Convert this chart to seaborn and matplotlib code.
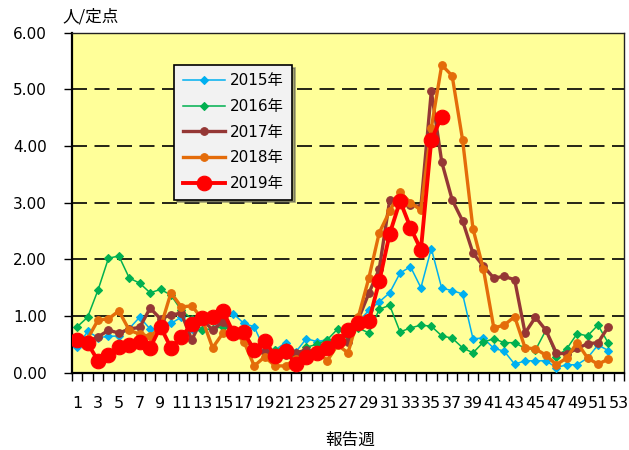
import matplotlib
matplotlib.use("Agg")
import matplotlib.pyplot as plt
import seaborn as sns
import pandas as pd

weeks = list(range(1, 53))

y2015 = [0.45, 0.73, 0.62, 0.64, 0.65, 0.78, 0.98, 0.77, 0.75, 0.87,
         0.98, 0.78, 0.75, 0.77, 0.95, 1.04, 0.87, 0.81, 0.40, 0.40,
         0.53, 0.37, 0.60, 0.55, 0.58, 0.55, 0.72, 0.90, 1.10, 1.25,
         1.41, 1.76, 1.87, 1.50, 2.19, 1.49, 1.45, 1.39, 0.60, 0.61,
         0.43, 0.38, 0.15, 0.21, 0.21, 0.21, 0.09, 0.14, 0.14, 0.26,
         0.49, 0.39]
y2016 = [0.81, 0.98, 1.46, 2.02, 2.06, 1.67, 1.58, 1.41, 1.47, 1.37,
         1.10, 0.95, 0.75, 0.78, 0.81, 0.75, 0.70, 0.45, 0.35, 0.40,
         0.45, 0.30, 0.45, 0.50, 0.58, 0.77, 0.65, 0.79, 0.70, 1.12,
         1.19, 0.72, 0.79, 0.84, 0.82, 0.65, 0.61, 0.44, 0.35, 0.54,
         0.60, 0.53, 0.53, 0.43, 0.40, 0.75, 0.28, 0.42, 0.69, 0.65,
         0.84, 0.52]
y2017 = [0.60, 0.55, 0.63, 0.75, 0.70, 0.77, 0.80, 1.14, 0.95, 1.02,
         1.05, 0.58, 0.95, 0.75, 0.90, 0.72, 0.68, 0.37, 0.37, 0.26,
         0.31, 0.35, 0.40, 0.35, 0.45, 0.60, 0.55, 0.95, 1.40, 1.83,
         3.04, 2.99, 2.96, 2.93, 4.97, 3.72, 3.05, 2.68, 2.11, 1.88,
         1.67, 1.70, 1.64, 0.70, 0.98, 0.75, 0.35, 0.33, 0.43, 0.51,
         0.53, 0.81]
y2018 = [0.58, 0.60, 0.93, 0.95, 1.09, 0.75, 0.68, 0.64, 0.80, 1.41,
         1.16, 1.18, 0.95, 0.44, 0.70, 0.72, 0.55, 0.12, 0.28, 0.12,
         0.12, 0.25, 0.28, 0.40, 0.21, 0.49, 0.35, 0.99, 1.67, 2.47,
         2.85, 3.19, 3.00, 2.87, 4.32, 5.43, 5.24, 4.11, 2.54, 1.83,
         0.79, 0.84, 0.99, 0.44, 0.42, 0.31, 0.14, 0.26, 0.53, 0.26,
         0.15, 0.24]
y2019 = [0.58, 0.52, 0.21, 0.31, 0.46, 0.49, 0.55, 0.44, 0.81, 0.44,
         0.63, 0.86, 0.96, 0.99, 1.09, 0.70, 0.71, 0.40, 0.56, 0.30,
         0.38, 0.15, 0.28, 0.35, 0.44, 0.56, 0.75, 0.88, 0.91, 1.61,
         2.45, 3.03, 2.56, 2.17, 4.11, 4.52]

series_names = ["2015年", "2016年", "2017年", "2018年", "2019年"]
series_values = [y2015, y2016, y2017, y2018, y2019]
tick_labels = [str(w) for w in range(1, 54, 2)]
y_ticks = [0, 1, 2, 3, 4, 5, 6]

styles = {
    "2015年": dict(color="#00B0F0", marker="D", markersize=4.0, linewidth=1.1),
    "2016年": dict(color="#00B050", marker="D", markersize=4.0, linewidth=1.1),
    "2017年": dict(color="#953735", marker="o", markersize=5.5, linewidth=2.4),
    "2018年": dict(color="#E46C0A", marker="o", markersize=5.5, linewidth=2.4),
    "2019年": dict(color="#FF0000", marker="o", markersize=10.5, linewidth=2.8),
}

rows = []
for name, vals in zip(series_names, series_values):
    for w, v in zip(weeks, vals):
        rows.append({"week": w, "value": v, "year": name})
df = pd.DataFrame(rows)

plt.rcParams["font.family"] = ["DejaVu Sans", "Noto Sans CJK JP"]

fig = plt.figure(figsize=(6.29, 4.5), dpi=100)
ax = fig.add_axes([72/629, 1-372.7/450, 552/629, 340/450])
ax.set_facecolor("#FFFF99")

for name in series_names:
    st = styles[name]
    sub = df[df["year"] == name]
    sns.lineplot(data=sub, x="week", y="value", ax=ax, label=name,
                 color=st["color"], marker=st["marker"],
                 markersize=st["markersize"], linewidth=st["linewidth"],
                 markeredgecolor=st["color"], markeredgewidth=0.8,
                 zorder=3, sort=False)

ax.set_xlim(0.5, 53.5)
ax.set_ylim(0, 6)
ax.set_xticks(list(range(1, 54, 2)))
ax.set_xticklabels(tick_labels, fontsize=11.5)
ax.set_xticks([k + 0.5 for k in range(0, 54)], minor=True)
ax.tick_params(axis="x", which="major", length=0, pad=17)
ax.tick_params(axis="x", which="minor", length=6, width=1.0, direction="out")
ax.set_yticks(y_ticks)
ax.set_yticklabels([f"{t:.2f}" for t in y_ticks], fontsize=11)
ax.tick_params(axis="y", which="major", length=6, width=1.0, direction="out", pad=12)

for yv in [1, 2, 3, 4, 5]:
    ax.axhline(yv, color="black", linewidth=1.2, linestyle=(0, (9, 4.5)), zorder=1)

for side in ["left", "bottom"]:
    ax.spines[side].set_linewidth(1.6)
    ax.spines[side].set_color("black")
for side in ["top", "right"]:
    ax.spines[side].set_linewidth(1.0)
    ax.spines[side].set_color("#222222")

ax.set_xlabel("")
ax.set_ylabel("")

leg = ax.legend(loc="upper left", bbox_to_anchor=(0.185, 0.905), fontsize=11,
                frameon=True, fancybox=False, shadow=True, borderpad=0.55,
                labelspacing=0.70, handlelength=2.8, handletextpad=0.3,
                borderaxespad=0)
leg.get_frame().set_facecolor("#F2F2F2")
leg.get_frame().set_edgecolor("black")
leg.get_frame().set_linewidth(1.2)
leg.get_frame().set_alpha(1)

fig.text(62/629, 1-17/450, "人/定点", fontsize=12, ha="left", va="center",
         family=["Noto Sans CJK JP"])
fig.text(350/629, 1-440/450, "報告週", fontsize=12, ha="center", va="center",
         family=["Noto Sans CJK JP"])

fig.savefig("out.png", dpi=100, facecolor="white")
